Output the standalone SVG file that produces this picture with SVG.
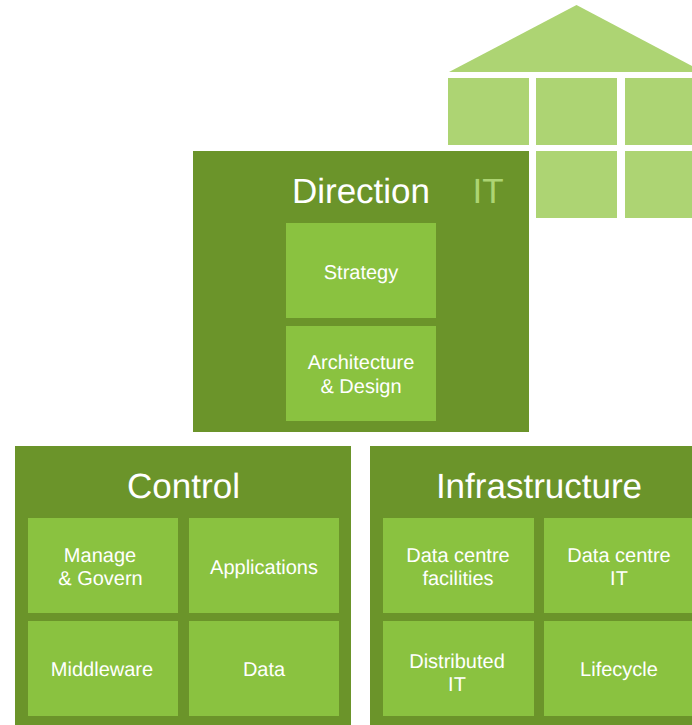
<svg xmlns="http://www.w3.org/2000/svg" width="692" height="725" viewBox="0 0 692 725">
<style>
text{font-family:"Liberation Sans",Arial,sans-serif;fill:#fff;text-anchor:middle;text-rendering:geometricPrecision}
.t{font-size:35px}
.s{font-size:20px}
.p{fill:#6b942a}
.c{fill:#8ac240}
.h{fill:#add473}
</style>
<rect width="692" height="725" fill="#fff"/>
<g id="house">
<polygon class="h" points="576.5,5 692,66 692,72 449,72"/>
<rect class="h" x="448" y="78" width="81" height="67"/>
<rect class="h" x="536" y="78" width="81" height="67"/>
<rect class="h" x="625" y="78" width="67" height="67"/>
<rect class="h" x="536" y="151" width="81" height="67"/>
<rect class="h" x="625" y="151" width="67" height="67"/>
</g>
<g id="direction">
<rect class="p" x="193" y="151" width="336" height="281"/>
<text class="t" x="361" y="203">Direction</text>
<text class="t" x="488" y="203" style="fill:#add473">IT</text>
</g>
<g id="strategy"><rect class="c" x="286" y="223" width="150" height="95"/><text class="s" x="361" y="279">Strategy</text></g>
<g id="architecture"><rect class="c" x="286" y="326" width="150" height="95"/><text class="s" x="361" y="369">Architecture</text><text class="s" x="361" y="393">&amp; Design</text></g>
<g id="control">
<rect class="p" x="15" y="446" width="336" height="279"/>
<text class="t" x="183.500" y="498">Control</text>
</g>
<g id="manage"><rect class="c" x="28" y="518" width="150" height="95"/><text class="s" x="100" y="562">Manage</text><text class="s" x="100.500" y="585">&amp; Govern</text></g>
<g id="applications"><rect class="c" x="189" y="518" width="150" height="95"/><text class="s" x="264" y="574">Applications</text></g>
<g id="middleware"><rect class="c" x="28" y="621" width="150" height="95"/><text class="s" x="102" y="676">Middleware</text></g>
<g id="data"><rect class="c" x="189" y="621" width="150" height="95"/><text class="s" x="264" y="676">Data</text></g>
<g id="infrastructure">
<rect class="p" x="370" y="446" width="322" height="279"/>
<text class="t" x="539" y="498">Infrastructure</text>
</g>
<g id="dc-facilities"><rect class="c" x="383" y="518" width="151" height="95"/><text class="s" x="458" y="562">Data centre</text><text class="s" x="458" y="585">facilities</text></g>
<g id="dc-it"><rect class="c" x="544" y="518" width="148" height="95"/><text class="s" x="619" y="562">Data centre</text><text class="s" x="619" y="585">IT</text></g>
<g id="distributed"><rect class="c" x="383" y="621" width="151" height="95"/><text class="s" x="457" y="668">Distributed</text><text class="s" x="457" y="691">IT</text></g>
<g id="lifecycle"><rect class="c" x="544" y="621" width="148" height="95"/><text class="s" x="619" y="676">Lifecycle</text></g>
<g id="connectors"/>
</svg>
